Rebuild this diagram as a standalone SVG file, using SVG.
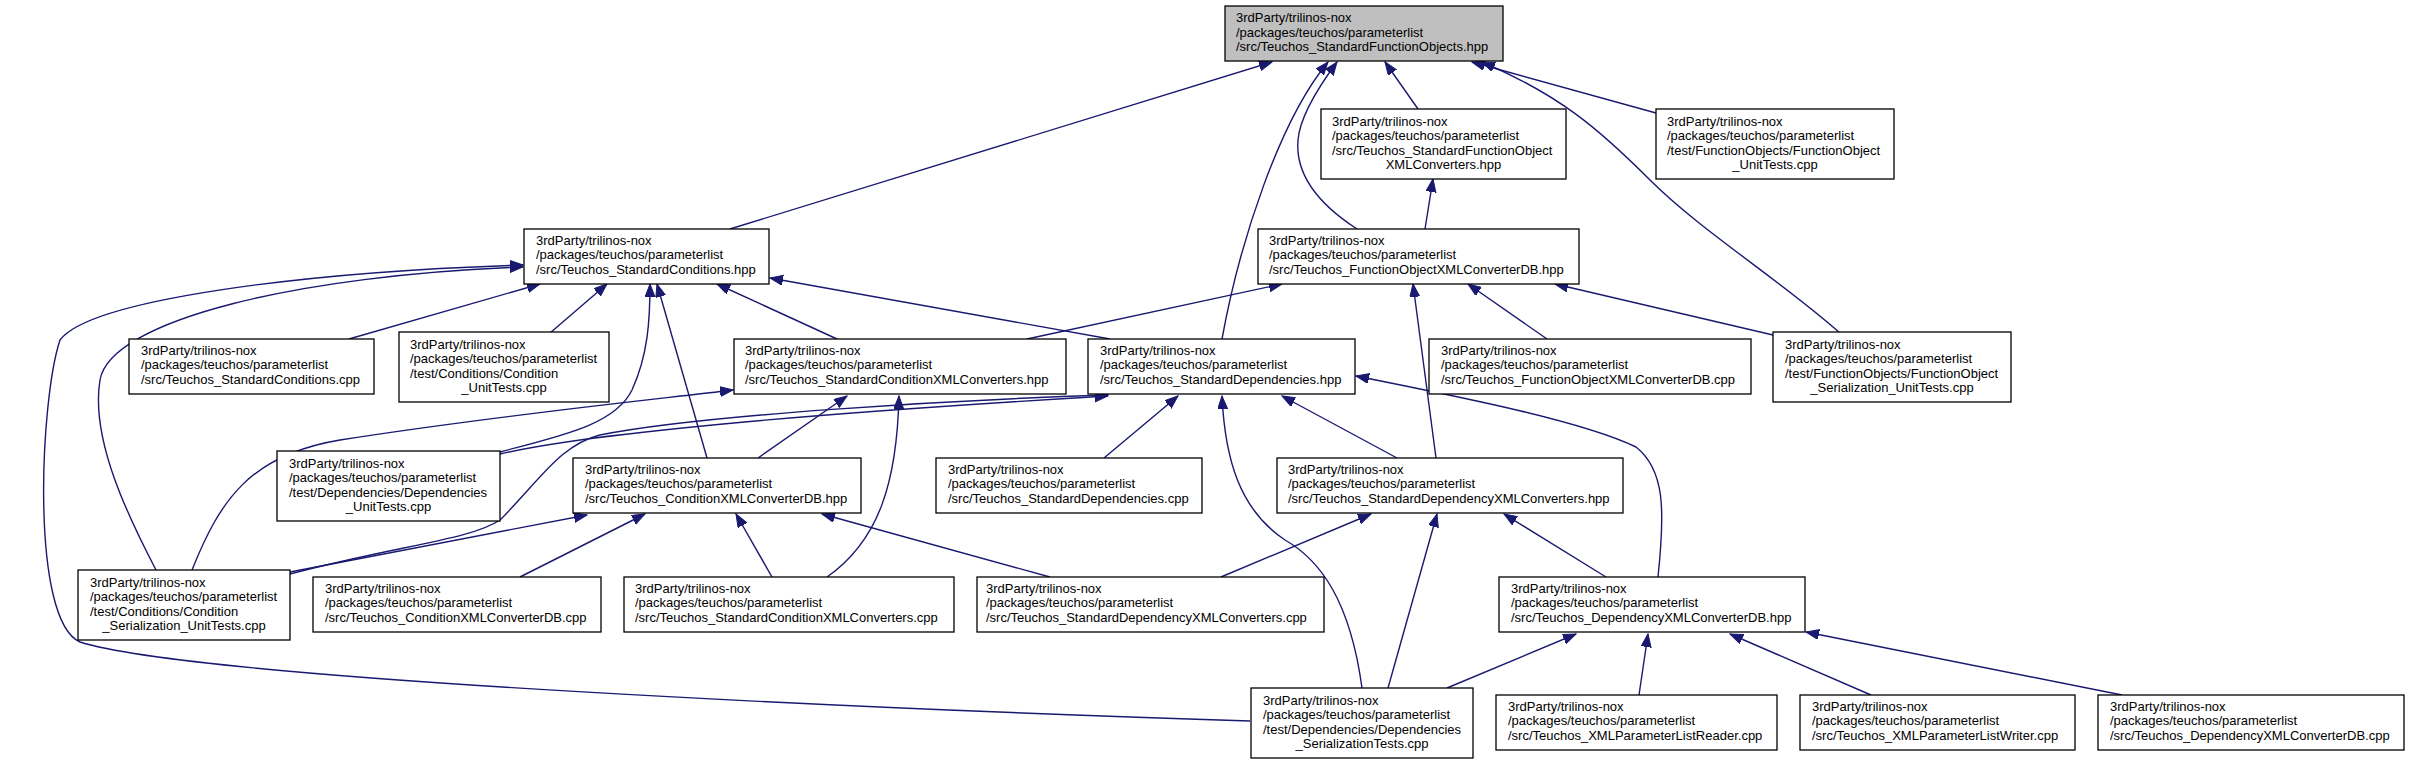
<svg xmlns="http://www.w3.org/2000/svg" width="2411" height="764" viewBox="0 0 2411 764">
<defs>
<style>
.n rect{fill:#ffffff;stroke:#000000;stroke-width:1.3}
.n.root rect{fill:#bfbfbf}
.n text{font-family:"Liberation Sans",Arial,sans-serif;font-size:13px;fill:#000000}
.c{text-anchor:middle}
#edges path{fill:none;stroke:#191970;stroke-width:1.4;marker-end:url(#ah)}
</style>
<marker id="ah" markerWidth="14" markerHeight="11" refX="13" refY="5" orient="auto" markerUnits="userSpaceOnUse"><path d="M0,0 L13,5 L0,10 Z" fill="#191970" stroke="#191970" stroke-width="1"/></marker>
</defs>
<rect width="2411" height="764" fill="#ffffff"/>
<g id="edges">
<path d="M730,229 L1272,62"/>
<path d="M1418,109 L1385,62"/>
<path d="M1357,229 C1320,205 1295,175 1298,140 C1300,115 1320,85 1337,62"/>
<path d="M1222,339 C1240,240 1280,120 1328,62"/>
<path d="M1656,113 L1472,62"/>
<path d="M1840,333 C1780,280 1700,230 1650,180 C1600,130 1560,95 1482,62"/>
<path d="M1425,229 L1433,179"/>
<path d="M1773,335 L1555,284"/>
<path d="M1547,339 L1468,284"/>
<path d="M1027,339 L1282,284"/>
<path d="M1436,458 L1413,284"/>
<path d="M349,339 L540,284"/>
<path d="M550,333 L607,284"/>
<path d="M837,339 L717,284"/>
<path d="M1110,339 L770,278"/>
<path d="M707,458 L657,284"/>
<path d="M500,452 C560,436 615,425 632,390 C648,355 650,320 650,284"/>
<path d="M156,570 C130,520 90,440 100,380 C110,320 300,275 523,267"/>
<path d="M1250,721 C900,710 200,680 80,642 C30,620 40,400 60,340 C90,300 300,272 523,265"/>
<path d="M290,572 L587,515"/>
<path d="M192,570 C220,500 250,455 340,440 C500,415 650,400 733,390"/>
<path d="M290,574 C400,545 470,540 500,520 C540,480 560,445 600,435 C700,415 950,400 1108,395"/>
<path d="M500,454 C560,440 700,420 1108,396"/>
<path d="M758,458 L847,396"/>
<path d="M827,577 C880,540 897,480 899,396"/>
<path d="M772,577 L736,514"/>
<path d="M520,577 L645,514"/>
<path d="M1050,577 L822,514"/>
<path d="M1221,577 L1371,514"/>
<path d="M1388,688 L1437,514"/>
<path d="M1606,577 L1504,514"/>
<path d="M1658,577 C1665,510 1665,470 1636,447 C1580,420 1450,395 1356,376"/>
<path d="M1362,688 C1350,600 1320,560 1285,540 C1240,510 1225,460 1222,396"/>
<path d="M1104,458 L1178,396"/>
<path d="M1397,458 L1282,396"/>
<path d="M1447,688 L1576,634"/>
<path d="M1639,695 L1648,634"/>
<path d="M1871,695 L1730,634"/>
<path d="M2122,695 L1806,632"/>
</g>
<g id="n0" class="n root"><rect x="1225" y="6" width="278" height="55"/><text x="1236" y="22">3rdParty/trilinos-nox</text><text x="1236" y="36.5">/packages/teuchos/parameterlist</text><text x="1236" y="51">/src/Teuchos_StandardFunctionObjects.hpp</text></g>
<g id="n1" class="n"><rect x="524" y="229" width="245" height="55"/><text x="536" y="244.5">3rdParty/trilinos-nox</text><text x="536" y="259">/packages/teuchos/parameterlist</text><text x="536" y="273.5">/src/Teuchos_StandardConditions.hpp</text></g>
<g id="n2" class="n"><rect x="1321" y="109" width="245" height="70"/><text x="1332" y="125.5">3rdParty/trilinos-nox</text><text x="1332" y="140">/packages/teuchos/parameterlist</text><text x="1332" y="154.5">/src/Teuchos_StandardFunctionObject</text><text x="1443.5" y="169" class="c">XMLConverters.hpp</text></g>
<g id="n3" class="n"><rect x="1258" y="229" width="321" height="55"/><text x="1269" y="244.5">3rdParty/trilinos-nox</text><text x="1269" y="259">/packages/teuchos/parameterlist</text><text x="1269" y="273.5">/src/Teuchos_FunctionObjectXMLConverterDB.hpp</text></g>
<g id="n4" class="n"><rect x="1656" y="109" width="238" height="70"/><text x="1667" y="125.5">3rdParty/trilinos-nox</text><text x="1667" y="140">/packages/teuchos/parameterlist</text><text x="1667" y="154.5">/test/FunctionObjects/FunctionObject</text><text x="1775" y="169" class="c">_UnitTests.cpp</text></g>
<g id="n5" class="n"><rect x="129" y="339" width="245" height="55"/><text x="141" y="354.5">3rdParty/trilinos-nox</text><text x="141" y="369">/packages/teuchos/parameterlist</text><text x="141" y="383.5">/src/Teuchos_StandardConditions.cpp</text></g>
<g id="n6" class="n"><rect x="399" y="332" width="210" height="70"/><text x="410" y="348.5">3rdParty/trilinos-nox</text><text x="410" y="363">/packages/teuchos/parameterlist</text><text x="410" y="377.5">/test/Conditions/Condition</text><text x="504" y="392" class="c">_UnitTests.cpp</text></g>
<g id="n7" class="n"><rect x="734" y="339" width="332" height="55"/><text x="745" y="354.5">3rdParty/trilinos-nox</text><text x="745" y="369">/packages/teuchos/parameterlist</text><text x="745" y="383.5">/src/Teuchos_StandardConditionXMLConverters.hpp</text></g>
<g id="n8" class="n"><rect x="1088" y="339" width="267" height="55"/><text x="1100" y="354.5">3rdParty/trilinos-nox</text><text x="1100" y="369">/packages/teuchos/parameterlist</text><text x="1100" y="383.5">/src/Teuchos_StandardDependencies.hpp</text></g>
<g id="n9" class="n"><rect x="1429" y="339" width="322" height="55"/><text x="1441" y="354.5">3rdParty/trilinos-nox</text><text x="1441" y="369">/packages/teuchos/parameterlist</text><text x="1441" y="383.5">/src/Teuchos_FunctionObjectXMLConverterDB.cpp</text></g>
<g id="n10" class="n"><rect x="1773" y="332" width="238" height="70"/><text x="1785" y="348.5">3rdParty/trilinos-nox</text><text x="1785" y="363">/packages/teuchos/parameterlist</text><text x="1785" y="377.5">/test/FunctionObjects/FunctionObject</text><text x="1892" y="392" class="c">_Serialization_UnitTests.cpp</text></g>
<g id="n11" class="n"><rect x="277" y="451" width="223" height="70"/><text x="289" y="467.5">3rdParty/trilinos-nox</text><text x="289" y="482">/packages/teuchos/parameterlist</text><text x="289" y="496.5">/test/Dependencies/Dependencies</text><text x="388.5" y="511" class="c">_UnitTests.cpp</text></g>
<g id="n12" class="n"><rect x="573" y="458" width="288" height="55"/><text x="585" y="473.5">3rdParty/trilinos-nox</text><text x="585" y="488">/packages/teuchos/parameterlist</text><text x="585" y="502.5">/src/Teuchos_ConditionXMLConverterDB.hpp</text></g>
<g id="n13" class="n"><rect x="78" y="570" width="212" height="70"/><text x="90" y="586.5">3rdParty/trilinos-nox</text><text x="90" y="601">/packages/teuchos/parameterlist</text><text x="90" y="615.5">/test/Conditions/Condition</text><text x="184" y="630" class="c">_Serialization_UnitTests.cpp</text></g>
<g id="n14" class="n"><rect x="313" y="577" width="288" height="55"/><text x="325" y="592.5">3rdParty/trilinos-nox</text><text x="325" y="607">/packages/teuchos/parameterlist</text><text x="325" y="621.5">/src/Teuchos_ConditionXMLConverterDB.cpp</text></g>
<g id="n15" class="n"><rect x="624" y="577" width="330" height="55"/><text x="635" y="592.5">3rdParty/trilinos-nox</text><text x="635" y="607">/packages/teuchos/parameterlist</text><text x="635" y="621.5">/src/Teuchos_StandardConditionXMLConverters.cpp</text></g>
<g id="n16" class="n"><rect x="936" y="458" width="266" height="55"/><text x="948" y="473.5">3rdParty/trilinos-nox</text><text x="948" y="488">/packages/teuchos/parameterlist</text><text x="948" y="502.5">/src/Teuchos_StandardDependencies.cpp</text></g>
<g id="n17" class="n"><rect x="1277" y="458" width="346" height="55"/><text x="1288" y="473.5">3rdParty/trilinos-nox</text><text x="1288" y="488">/packages/teuchos/parameterlist</text><text x="1288" y="502.5">/src/Teuchos_StandardDependencyXMLConverters.hpp</text></g>
<g id="n18" class="n"><rect x="977" y="577" width="347" height="55"/><text x="986" y="592.5">3rdParty/trilinos-nox</text><text x="986" y="607">/packages/teuchos/parameterlist</text><text x="986" y="621.5">/src/Teuchos_StandardDependencyXMLConverters.cpp</text></g>
<g id="n19" class="n"><rect x="1499" y="577" width="306" height="55"/><text x="1511" y="592.5">3rdParty/trilinos-nox</text><text x="1511" y="607">/packages/teuchos/parameterlist</text><text x="1511" y="621.5">/src/Teuchos_DependencyXMLConverterDB.hpp</text></g>
<g id="n20" class="n"><rect x="1251" y="688" width="222" height="70"/><text x="1263" y="704.5">3rdParty/trilinos-nox</text><text x="1263" y="719">/packages/teuchos/parameterlist</text><text x="1263" y="733.5">/test/Dependencies/Dependencies</text><text x="1362" y="748" class="c">_SerializationTests.cpp</text></g>
<g id="n21" class="n"><rect x="1496" y="695" width="281" height="55"/><text x="1508" y="710.5">3rdParty/trilinos-nox</text><text x="1508" y="725">/packages/teuchos/parameterlist</text><text x="1508" y="739.5">/src/Teuchos_XMLParameterListReader.cpp</text></g>
<g id="n22" class="n"><rect x="1800" y="695" width="275" height="55"/><text x="1812" y="710.5">3rdParty/trilinos-nox</text><text x="1812" y="725">/packages/teuchos/parameterlist</text><text x="1812" y="739.5">/src/Teuchos_XMLParameterListWriter.cpp</text></g>
<g id="n23" class="n"><rect x="2098" y="695" width="306" height="55"/><text x="2110" y="710.5">3rdParty/trilinos-nox</text><text x="2110" y="725">/packages/teuchos/parameterlist</text><text x="2110" y="739.5">/src/Teuchos_DependencyXMLConverterDB.cpp</text></g>
</svg>
